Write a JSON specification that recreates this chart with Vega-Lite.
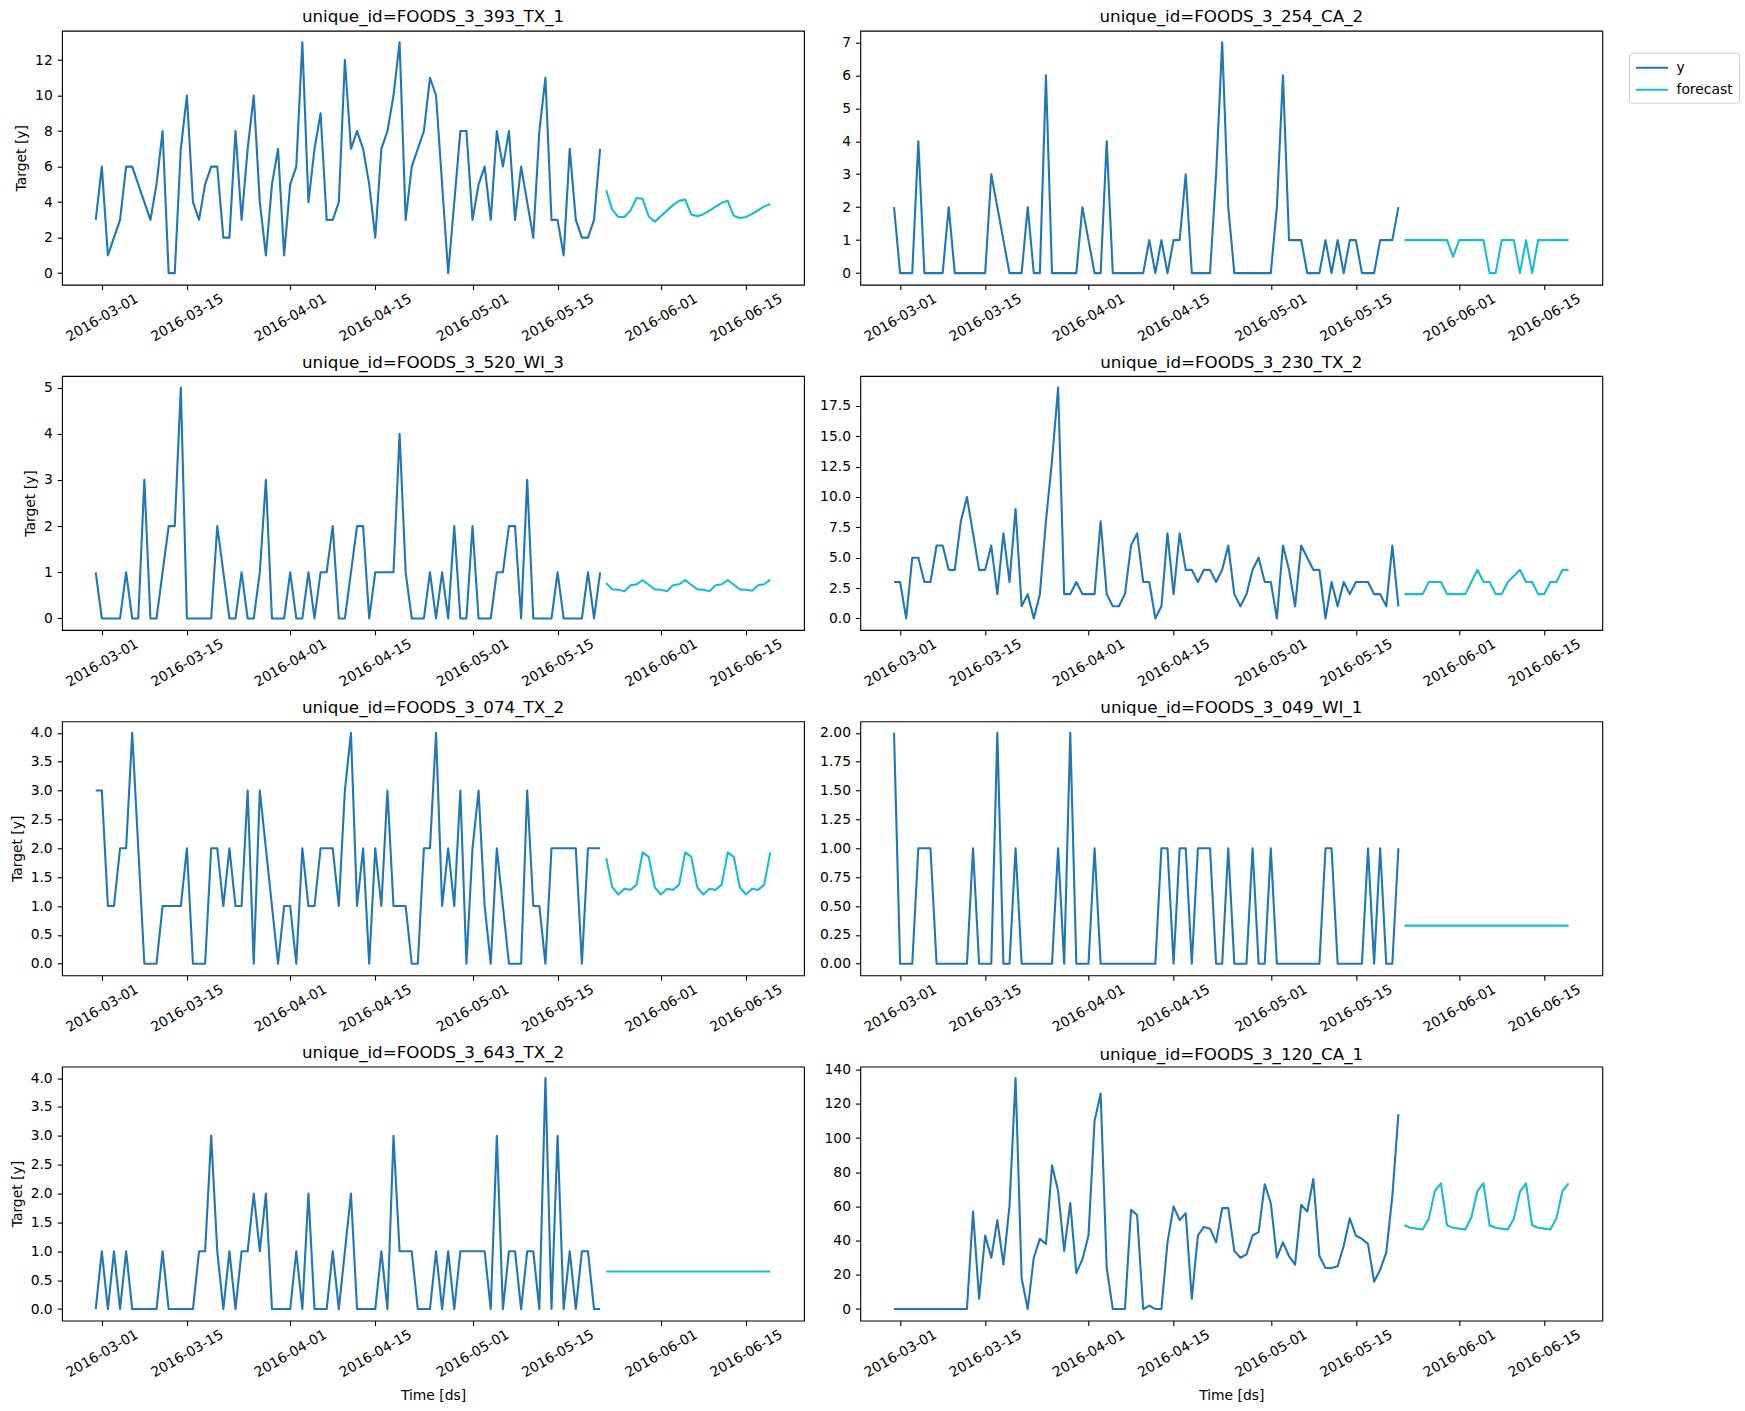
{
"$schema": "https://vega.github.io/schema/vega-lite/v6.json",
"background": "white",
"padding": {"left": 9, "top": 8.7, "right": 5, "bottom": 5},
"columns": 2,
"bounds": "flush",
"spacing": {"row": 91.3, "column": 56.3},
"resolve": {"scale": {"x": "independent", "y": "independent", "color": "shared"}, "legend": {"color": "shared"}},
"datasets": {
"p1": [
{"ds":"2016-02-29","s":"y","v":3},{"ds":"2016-03-01","s":"y","v":6},{"ds":"2016-03-02","s":"y","v":1},{"ds":"2016-03-03","s":"y","v":2},{"ds":"2016-03-04","s":"y","v":3},{"ds":"2016-03-05","s":"y","v":6},{"ds":"2016-03-06","s":"y","v":6},{"ds":"2016-03-07","s":"y","v":5},{"ds":"2016-03-08","s":"y","v":4},{"ds":"2016-03-09","s":"y","v":3},
{"ds":"2016-03-10","s":"y","v":5},{"ds":"2016-03-11","s":"y","v":8},{"ds":"2016-03-12","s":"y","v":0},{"ds":"2016-03-13","s":"y","v":0},{"ds":"2016-03-14","s":"y","v":7},{"ds":"2016-03-15","s":"y","v":10},{"ds":"2016-03-16","s":"y","v":4},{"ds":"2016-03-17","s":"y","v":3},{"ds":"2016-03-18","s":"y","v":5},{"ds":"2016-03-19","s":"y","v":6},
{"ds":"2016-03-20","s":"y","v":6},{"ds":"2016-03-21","s":"y","v":2},{"ds":"2016-03-22","s":"y","v":2},{"ds":"2016-03-23","s":"y","v":8},{"ds":"2016-03-24","s":"y","v":3},{"ds":"2016-03-25","s":"y","v":7},{"ds":"2016-03-26","s":"y","v":10},{"ds":"2016-03-27","s":"y","v":4},{"ds":"2016-03-28","s":"y","v":1},{"ds":"2016-03-29","s":"y","v":5},
{"ds":"2016-03-30","s":"y","v":7},{"ds":"2016-03-31","s":"y","v":1},{"ds":"2016-04-01","s":"y","v":5},{"ds":"2016-04-02","s":"y","v":6},{"ds":"2016-04-03","s":"y","v":13},{"ds":"2016-04-04","s":"y","v":4},{"ds":"2016-04-05","s":"y","v":7},{"ds":"2016-04-06","s":"y","v":9},{"ds":"2016-04-07","s":"y","v":3},{"ds":"2016-04-08","s":"y","v":3},
{"ds":"2016-04-09","s":"y","v":4},{"ds":"2016-04-10","s":"y","v":12},{"ds":"2016-04-11","s":"y","v":7},{"ds":"2016-04-12","s":"y","v":8},{"ds":"2016-04-13","s":"y","v":7},{"ds":"2016-04-14","s":"y","v":5},{"ds":"2016-04-15","s":"y","v":2},{"ds":"2016-04-16","s":"y","v":7},{"ds":"2016-04-17","s":"y","v":8},{"ds":"2016-04-18","s":"y","v":10},
{"ds":"2016-04-19","s":"y","v":13},{"ds":"2016-04-20","s":"y","v":3},{"ds":"2016-04-21","s":"y","v":6},{"ds":"2016-04-22","s":"y","v":7},{"ds":"2016-04-23","s":"y","v":8},{"ds":"2016-04-24","s":"y","v":11},{"ds":"2016-04-25","s":"y","v":10},{"ds":"2016-04-26","s":"y","v":5},{"ds":"2016-04-27","s":"y","v":0},{"ds":"2016-04-28","s":"y","v":4},
{"ds":"2016-04-29","s":"y","v":8},{"ds":"2016-04-30","s":"y","v":8},{"ds":"2016-05-01","s":"y","v":3},{"ds":"2016-05-02","s":"y","v":5},{"ds":"2016-05-03","s":"y","v":6},{"ds":"2016-05-04","s":"y","v":3},{"ds":"2016-05-05","s":"y","v":8},{"ds":"2016-05-06","s":"y","v":6},{"ds":"2016-05-07","s":"y","v":8},{"ds":"2016-05-08","s":"y","v":3},
{"ds":"2016-05-09","s":"y","v":6},{"ds":"2016-05-10","s":"y","v":4},{"ds":"2016-05-11","s":"y","v":2},{"ds":"2016-05-12","s":"y","v":8},{"ds":"2016-05-13","s":"y","v":11},{"ds":"2016-05-14","s":"y","v":3},{"ds":"2016-05-15","s":"y","v":3},{"ds":"2016-05-16","s":"y","v":1},{"ds":"2016-05-17","s":"y","v":7},{"ds":"2016-05-18","s":"y","v":3},
{"ds":"2016-05-19","s":"y","v":2},{"ds":"2016-05-20","s":"y","v":2},{"ds":"2016-05-21","s":"y","v":3},{"ds":"2016-05-22","s":"y","v":7},
{"ds":"2016-05-23","s":"forecast","v":4.67},{"ds":"2016-05-24","s":"forecast","v":3.56},{"ds":"2016-05-25","s":"forecast","v":3.16},{"ds":"2016-05-26","s":"forecast","v":3.16},{"ds":"2016-05-27","s":"forecast","v":3.52},{"ds":"2016-05-28","s":"forecast","v":4.23},{"ds":"2016-05-29","s":"forecast","v":4.18},{"ds":"2016-05-30","s":"forecast","v":3.19},{"ds":"2016-05-31","s":"forecast","v":2.9},{"ds":"2016-06-01","s":"forecast","v":3.21},
{"ds":"2016-06-02","s":"forecast","v":3.52},{"ds":"2016-06-03","s":"forecast","v":3.83},{"ds":"2016-06-04","s":"forecast","v":4.07},{"ds":"2016-06-05","s":"forecast","v":4.14},{"ds":"2016-06-06","s":"forecast","v":3.3},{"ds":"2016-06-07","s":"forecast","v":3.21},{"ds":"2016-06-08","s":"forecast","v":3.32},{"ds":"2016-06-09","s":"forecast","v":3.52},{"ds":"2016-06-10","s":"forecast","v":3.74},{"ds":"2016-06-11","s":"forecast","v":3.96},
{"ds":"2016-06-12","s":"forecast","v":4.07},{"ds":"2016-06-13","s":"forecast","v":3.23},{"ds":"2016-06-14","s":"forecast","v":3.1},{"ds":"2016-06-15","s":"forecast","v":3.16},{"ds":"2016-06-16","s":"forecast","v":3.34},{"ds":"2016-06-17","s":"forecast","v":3.54},{"ds":"2016-06-18","s":"forecast","v":3.76},{"ds":"2016-06-19","s":"forecast","v":3.89}
],
"p2": [
{"ds":"2016-02-29","s":"y","v":2},{"ds":"2016-03-01","s":"y","v":0},{"ds":"2016-03-02","s":"y","v":0},{"ds":"2016-03-03","s":"y","v":0},{"ds":"2016-03-04","s":"y","v":4},{"ds":"2016-03-05","s":"y","v":0},{"ds":"2016-03-06","s":"y","v":0},{"ds":"2016-03-07","s":"y","v":0},{"ds":"2016-03-08","s":"y","v":0},{"ds":"2016-03-09","s":"y","v":2},
{"ds":"2016-03-10","s":"y","v":0},{"ds":"2016-03-11","s":"y","v":0},{"ds":"2016-03-12","s":"y","v":0},{"ds":"2016-03-13","s":"y","v":0},{"ds":"2016-03-14","s":"y","v":0},{"ds":"2016-03-15","s":"y","v":0},{"ds":"2016-03-16","s":"y","v":3},{"ds":"2016-03-17","s":"y","v":2},{"ds":"2016-03-18","s":"y","v":1},{"ds":"2016-03-19","s":"y","v":0},
{"ds":"2016-03-20","s":"y","v":0},{"ds":"2016-03-21","s":"y","v":0},{"ds":"2016-03-22","s":"y","v":2},{"ds":"2016-03-23","s":"y","v":0},{"ds":"2016-03-24","s":"y","v":0},{"ds":"2016-03-25","s":"y","v":6},{"ds":"2016-03-26","s":"y","v":0},{"ds":"2016-03-27","s":"y","v":0},{"ds":"2016-03-28","s":"y","v":0},{"ds":"2016-03-29","s":"y","v":0},
{"ds":"2016-03-30","s":"y","v":0},{"ds":"2016-03-31","s":"y","v":2},{"ds":"2016-04-01","s":"y","v":1},{"ds":"2016-04-02","s":"y","v":0},{"ds":"2016-04-03","s":"y","v":0},{"ds":"2016-04-04","s":"y","v":4},{"ds":"2016-04-05","s":"y","v":0},{"ds":"2016-04-06","s":"y","v":0},{"ds":"2016-04-07","s":"y","v":0},{"ds":"2016-04-08","s":"y","v":0},
{"ds":"2016-04-09","s":"y","v":0},{"ds":"2016-04-10","s":"y","v":0},{"ds":"2016-04-11","s":"y","v":1},{"ds":"2016-04-12","s":"y","v":0},{"ds":"2016-04-13","s":"y","v":1},{"ds":"2016-04-14","s":"y","v":0},{"ds":"2016-04-15","s":"y","v":1},{"ds":"2016-04-16","s":"y","v":1},{"ds":"2016-04-17","s":"y","v":3},{"ds":"2016-04-18","s":"y","v":0},
{"ds":"2016-04-19","s":"y","v":0},{"ds":"2016-04-20","s":"y","v":0},{"ds":"2016-04-21","s":"y","v":0},{"ds":"2016-04-22","s":"y","v":3},{"ds":"2016-04-23","s":"y","v":7},{"ds":"2016-04-24","s":"y","v":2},{"ds":"2016-04-25","s":"y","v":0},{"ds":"2016-04-26","s":"y","v":0},{"ds":"2016-04-27","s":"y","v":0},{"ds":"2016-04-28","s":"y","v":0},
{"ds":"2016-04-29","s":"y","v":0},{"ds":"2016-04-30","s":"y","v":0},{"ds":"2016-05-01","s":"y","v":0},{"ds":"2016-05-02","s":"y","v":2},{"ds":"2016-05-03","s":"y","v":6},{"ds":"2016-05-04","s":"y","v":1},{"ds":"2016-05-05","s":"y","v":1},{"ds":"2016-05-06","s":"y","v":1},{"ds":"2016-05-07","s":"y","v":0},{"ds":"2016-05-08","s":"y","v":0},
{"ds":"2016-05-09","s":"y","v":0},{"ds":"2016-05-10","s":"y","v":1},{"ds":"2016-05-11","s":"y","v":0},{"ds":"2016-05-12","s":"y","v":1},{"ds":"2016-05-13","s":"y","v":0},{"ds":"2016-05-14","s":"y","v":1},{"ds":"2016-05-15","s":"y","v":1},{"ds":"2016-05-16","s":"y","v":0},{"ds":"2016-05-17","s":"y","v":0},{"ds":"2016-05-18","s":"y","v":0},
{"ds":"2016-05-19","s":"y","v":1},{"ds":"2016-05-20","s":"y","v":1},{"ds":"2016-05-21","s":"y","v":1},{"ds":"2016-05-22","s":"y","v":2},
{"ds":"2016-05-23","s":"forecast","v":1},{"ds":"2016-05-24","s":"forecast","v":1},{"ds":"2016-05-25","s":"forecast","v":1},{"ds":"2016-05-26","s":"forecast","v":1},{"ds":"2016-05-27","s":"forecast","v":1},{"ds":"2016-05-28","s":"forecast","v":1},{"ds":"2016-05-29","s":"forecast","v":1},{"ds":"2016-05-30","s":"forecast","v":1},{"ds":"2016-05-31","s":"forecast","v":0.5},{"ds":"2016-06-01","s":"forecast","v":1},
{"ds":"2016-06-02","s":"forecast","v":1},{"ds":"2016-06-03","s":"forecast","v":1},{"ds":"2016-06-04","s":"forecast","v":1},{"ds":"2016-06-05","s":"forecast","v":1},{"ds":"2016-06-06","s":"forecast","v":0},{"ds":"2016-06-07","s":"forecast","v":0},{"ds":"2016-06-08","s":"forecast","v":1},{"ds":"2016-06-09","s":"forecast","v":1},{"ds":"2016-06-10","s":"forecast","v":1},{"ds":"2016-06-11","s":"forecast","v":0},
{"ds":"2016-06-12","s":"forecast","v":1},{"ds":"2016-06-13","s":"forecast","v":0},{"ds":"2016-06-14","s":"forecast","v":1},{"ds":"2016-06-15","s":"forecast","v":1},{"ds":"2016-06-16","s":"forecast","v":1},{"ds":"2016-06-17","s":"forecast","v":1},{"ds":"2016-06-18","s":"forecast","v":1},{"ds":"2016-06-19","s":"forecast","v":1}
],
"p3": [
{"ds":"2016-02-29","s":"y","v":1},{"ds":"2016-03-01","s":"y","v":0},{"ds":"2016-03-02","s":"y","v":0},{"ds":"2016-03-03","s":"y","v":0},{"ds":"2016-03-04","s":"y","v":0},{"ds":"2016-03-05","s":"y","v":1},{"ds":"2016-03-06","s":"y","v":0},{"ds":"2016-03-07","s":"y","v":0},{"ds":"2016-03-08","s":"y","v":3},{"ds":"2016-03-09","s":"y","v":0},
{"ds":"2016-03-10","s":"y","v":0},{"ds":"2016-03-11","s":"y","v":1},{"ds":"2016-03-12","s":"y","v":2},{"ds":"2016-03-13","s":"y","v":2},{"ds":"2016-03-14","s":"y","v":5},{"ds":"2016-03-15","s":"y","v":0},{"ds":"2016-03-16","s":"y","v":0},{"ds":"2016-03-17","s":"y","v":0},{"ds":"2016-03-18","s":"y","v":0},{"ds":"2016-03-19","s":"y","v":0},
{"ds":"2016-03-20","s":"y","v":2},{"ds":"2016-03-21","s":"y","v":1},{"ds":"2016-03-22","s":"y","v":0},{"ds":"2016-03-23","s":"y","v":0},{"ds":"2016-03-24","s":"y","v":1},{"ds":"2016-03-25","s":"y","v":0},{"ds":"2016-03-26","s":"y","v":0},{"ds":"2016-03-27","s":"y","v":1},{"ds":"2016-03-28","s":"y","v":3},{"ds":"2016-03-29","s":"y","v":0},
{"ds":"2016-03-30","s":"y","v":0},{"ds":"2016-03-31","s":"y","v":0},{"ds":"2016-04-01","s":"y","v":1},{"ds":"2016-04-02","s":"y","v":0},{"ds":"2016-04-03","s":"y","v":0},{"ds":"2016-04-04","s":"y","v":1},{"ds":"2016-04-05","s":"y","v":0},{"ds":"2016-04-06","s":"y","v":1},{"ds":"2016-04-07","s":"y","v":1},{"ds":"2016-04-08","s":"y","v":2},
{"ds":"2016-04-09","s":"y","v":0},{"ds":"2016-04-10","s":"y","v":0},{"ds":"2016-04-11","s":"y","v":1},{"ds":"2016-04-12","s":"y","v":2},{"ds":"2016-04-13","s":"y","v":2},{"ds":"2016-04-14","s":"y","v":0},{"ds":"2016-04-15","s":"y","v":1},{"ds":"2016-04-16","s":"y","v":1},{"ds":"2016-04-17","s":"y","v":1},{"ds":"2016-04-18","s":"y","v":1},
{"ds":"2016-04-19","s":"y","v":4},{"ds":"2016-04-20","s":"y","v":1},{"ds":"2016-04-21","s":"y","v":0},{"ds":"2016-04-22","s":"y","v":0},{"ds":"2016-04-23","s":"y","v":0},{"ds":"2016-04-24","s":"y","v":1},{"ds":"2016-04-25","s":"y","v":0},{"ds":"2016-04-26","s":"y","v":1},{"ds":"2016-04-27","s":"y","v":0},{"ds":"2016-04-28","s":"y","v":2},
{"ds":"2016-04-29","s":"y","v":0},{"ds":"2016-04-30","s":"y","v":0},{"ds":"2016-05-01","s":"y","v":2},{"ds":"2016-05-02","s":"y","v":0},{"ds":"2016-05-03","s":"y","v":0},{"ds":"2016-05-04","s":"y","v":0},{"ds":"2016-05-05","s":"y","v":1},{"ds":"2016-05-06","s":"y","v":1},{"ds":"2016-05-07","s":"y","v":2},{"ds":"2016-05-08","s":"y","v":2},
{"ds":"2016-05-09","s":"y","v":0},{"ds":"2016-05-10","s":"y","v":3},{"ds":"2016-05-11","s":"y","v":0},{"ds":"2016-05-12","s":"y","v":0},{"ds":"2016-05-13","s":"y","v":0},{"ds":"2016-05-14","s":"y","v":0},{"ds":"2016-05-15","s":"y","v":1},{"ds":"2016-05-16","s":"y","v":0},{"ds":"2016-05-17","s":"y","v":0},{"ds":"2016-05-18","s":"y","v":0},
{"ds":"2016-05-19","s":"y","v":0},{"ds":"2016-05-20","s":"y","v":1},{"ds":"2016-05-21","s":"y","v":0},{"ds":"2016-05-22","s":"y","v":1},
{"ds":"2016-05-23","s":"forecast","v":0.76},{"ds":"2016-05-24","s":"forecast","v":0.63},{"ds":"2016-05-25","s":"forecast","v":0.62},{"ds":"2016-05-26","s":"forecast","v":0.59},{"ds":"2016-05-27","s":"forecast","v":0.72},{"ds":"2016-05-28","s":"forecast","v":0.74},{"ds":"2016-05-29","s":"forecast","v":0.83},{"ds":"2016-05-30","s":"forecast","v":0.73},{"ds":"2016-05-31","s":"forecast","v":0.63},{"ds":"2016-06-01","s":"forecast","v":0.62},
{"ds":"2016-06-02","s":"forecast","v":0.59},{"ds":"2016-06-03","s":"forecast","v":0.72},{"ds":"2016-06-04","s":"forecast","v":0.74},{"ds":"2016-06-05","s":"forecast","v":0.83},{"ds":"2016-06-06","s":"forecast","v":0.73},{"ds":"2016-06-07","s":"forecast","v":0.63},{"ds":"2016-06-08","s":"forecast","v":0.62},{"ds":"2016-06-09","s":"forecast","v":0.59},{"ds":"2016-06-10","s":"forecast","v":0.72},{"ds":"2016-06-11","s":"forecast","v":0.74},
{"ds":"2016-06-12","s":"forecast","v":0.83},{"ds":"2016-06-13","s":"forecast","v":0.73},{"ds":"2016-06-14","s":"forecast","v":0.63},{"ds":"2016-06-15","s":"forecast","v":0.62},{"ds":"2016-06-16","s":"forecast","v":0.6},{"ds":"2016-06-17","s":"forecast","v":0.72},{"ds":"2016-06-18","s":"forecast","v":0.74},{"ds":"2016-06-19","s":"forecast","v":0.84}
],
"p4": [
{"ds":"2016-02-29","s":"y","v":3},{"ds":"2016-03-01","s":"y","v":3},{"ds":"2016-03-02","s":"y","v":0},{"ds":"2016-03-03","s":"y","v":5},{"ds":"2016-03-04","s":"y","v":5},{"ds":"2016-03-05","s":"y","v":3},{"ds":"2016-03-06","s":"y","v":3},{"ds":"2016-03-07","s":"y","v":6},{"ds":"2016-03-08","s":"y","v":6},{"ds":"2016-03-09","s":"y","v":4},
{"ds":"2016-03-10","s":"y","v":4},{"ds":"2016-03-11","s":"y","v":8},{"ds":"2016-03-12","s":"y","v":10},{"ds":"2016-03-13","s":"y","v":7},{"ds":"2016-03-14","s":"y","v":4},{"ds":"2016-03-15","s":"y","v":4},{"ds":"2016-03-16","s":"y","v":6},{"ds":"2016-03-17","s":"y","v":2},{"ds":"2016-03-18","s":"y","v":7},{"ds":"2016-03-19","s":"y","v":3},
{"ds":"2016-03-20","s":"y","v":9},{"ds":"2016-03-21","s":"y","v":1},{"ds":"2016-03-22","s":"y","v":2},{"ds":"2016-03-23","s":"y","v":0},{"ds":"2016-03-24","s":"y","v":2},{"ds":"2016-03-25","s":"y","v":8},{"ds":"2016-03-26","s":"y","v":13},{"ds":"2016-03-27","s":"y","v":19},{"ds":"2016-03-28","s":"y","v":2},{"ds":"2016-03-29","s":"y","v":2},
{"ds":"2016-03-30","s":"y","v":3},{"ds":"2016-03-31","s":"y","v":2},{"ds":"2016-04-01","s":"y","v":2},{"ds":"2016-04-02","s":"y","v":2},{"ds":"2016-04-03","s":"y","v":8},{"ds":"2016-04-04","s":"y","v":2},{"ds":"2016-04-05","s":"y","v":1},{"ds":"2016-04-06","s":"y","v":1},{"ds":"2016-04-07","s":"y","v":2},{"ds":"2016-04-08","s":"y","v":6},
{"ds":"2016-04-09","s":"y","v":7},{"ds":"2016-04-10","s":"y","v":3},{"ds":"2016-04-11","s":"y","v":3},{"ds":"2016-04-12","s":"y","v":0},{"ds":"2016-04-13","s":"y","v":1},{"ds":"2016-04-14","s":"y","v":7},{"ds":"2016-04-15","s":"y","v":2},{"ds":"2016-04-16","s":"y","v":7},{"ds":"2016-04-17","s":"y","v":4},{"ds":"2016-04-18","s":"y","v":4},
{"ds":"2016-04-19","s":"y","v":3},{"ds":"2016-04-20","s":"y","v":4},{"ds":"2016-04-21","s":"y","v":4},{"ds":"2016-04-22","s":"y","v":3},{"ds":"2016-04-23","s":"y","v":4},{"ds":"2016-04-24","s":"y","v":6},{"ds":"2016-04-25","s":"y","v":2},{"ds":"2016-04-26","s":"y","v":1},{"ds":"2016-04-27","s":"y","v":2},{"ds":"2016-04-28","s":"y","v":4},
{"ds":"2016-04-29","s":"y","v":5},{"ds":"2016-04-30","s":"y","v":3},{"ds":"2016-05-01","s":"y","v":3},{"ds":"2016-05-02","s":"y","v":0},{"ds":"2016-05-03","s":"y","v":6},{"ds":"2016-05-04","s":"y","v":4},{"ds":"2016-05-05","s":"y","v":1},{"ds":"2016-05-06","s":"y","v":6},{"ds":"2016-05-07","s":"y","v":5},{"ds":"2016-05-08","s":"y","v":4},
{"ds":"2016-05-09","s":"y","v":4},{"ds":"2016-05-10","s":"y","v":0},{"ds":"2016-05-11","s":"y","v":3},{"ds":"2016-05-12","s":"y","v":1},{"ds":"2016-05-13","s":"y","v":3},{"ds":"2016-05-14","s":"y","v":2},{"ds":"2016-05-15","s":"y","v":3},{"ds":"2016-05-16","s":"y","v":3},{"ds":"2016-05-17","s":"y","v":3},{"ds":"2016-05-18","s":"y","v":2},
{"ds":"2016-05-19","s":"y","v":2},{"ds":"2016-05-20","s":"y","v":1},{"ds":"2016-05-21","s":"y","v":6},{"ds":"2016-05-22","s":"y","v":1},
{"ds":"2016-05-23","s":"forecast","v":2},{"ds":"2016-05-24","s":"forecast","v":2},{"ds":"2016-05-25","s":"forecast","v":2},{"ds":"2016-05-26","s":"forecast","v":2},{"ds":"2016-05-27","s":"forecast","v":3},{"ds":"2016-05-28","s":"forecast","v":3},{"ds":"2016-05-29","s":"forecast","v":3},{"ds":"2016-05-30","s":"forecast","v":2},{"ds":"2016-05-31","s":"forecast","v":2},{"ds":"2016-06-01","s":"forecast","v":2},
{"ds":"2016-06-02","s":"forecast","v":2},{"ds":"2016-06-03","s":"forecast","v":3},{"ds":"2016-06-04","s":"forecast","v":4},{"ds":"2016-06-05","s":"forecast","v":3},{"ds":"2016-06-06","s":"forecast","v":3},{"ds":"2016-06-07","s":"forecast","v":2},{"ds":"2016-06-08","s":"forecast","v":2},{"ds":"2016-06-09","s":"forecast","v":3},{"ds":"2016-06-10","s":"forecast","v":3.5},{"ds":"2016-06-11","s":"forecast","v":4},
{"ds":"2016-06-12","s":"forecast","v":3},{"ds":"2016-06-13","s":"forecast","v":3},{"ds":"2016-06-14","s":"forecast","v":2},{"ds":"2016-06-15","s":"forecast","v":2},{"ds":"2016-06-16","s":"forecast","v":3},{"ds":"2016-06-17","s":"forecast","v":3},{"ds":"2016-06-18","s":"forecast","v":4},{"ds":"2016-06-19","s":"forecast","v":4}
],
"p5": [
{"ds":"2016-02-29","s":"y","v":3},{"ds":"2016-03-01","s":"y","v":3},{"ds":"2016-03-02","s":"y","v":1},{"ds":"2016-03-03","s":"y","v":1},{"ds":"2016-03-04","s":"y","v":2},{"ds":"2016-03-05","s":"y","v":2},{"ds":"2016-03-06","s":"y","v":4},{"ds":"2016-03-07","s":"y","v":2},{"ds":"2016-03-08","s":"y","v":0},{"ds":"2016-03-09","s":"y","v":0},
{"ds":"2016-03-10","s":"y","v":0},{"ds":"2016-03-11","s":"y","v":1},{"ds":"2016-03-12","s":"y","v":1},{"ds":"2016-03-13","s":"y","v":1},{"ds":"2016-03-14","s":"y","v":1},{"ds":"2016-03-15","s":"y","v":2},{"ds":"2016-03-16","s":"y","v":0},{"ds":"2016-03-17","s":"y","v":0},{"ds":"2016-03-18","s":"y","v":0},{"ds":"2016-03-19","s":"y","v":2},
{"ds":"2016-03-20","s":"y","v":2},{"ds":"2016-03-21","s":"y","v":1},{"ds":"2016-03-22","s":"y","v":2},{"ds":"2016-03-23","s":"y","v":1},{"ds":"2016-03-24","s":"y","v":1},{"ds":"2016-03-25","s":"y","v":3},{"ds":"2016-03-26","s":"y","v":0},{"ds":"2016-03-27","s":"y","v":3},{"ds":"2016-03-28","s":"y","v":2},{"ds":"2016-03-29","s":"y","v":1},
{"ds":"2016-03-30","s":"y","v":0},{"ds":"2016-03-31","s":"y","v":1},{"ds":"2016-04-01","s":"y","v":1},{"ds":"2016-04-02","s":"y","v":0},{"ds":"2016-04-03","s":"y","v":2},{"ds":"2016-04-04","s":"y","v":1},{"ds":"2016-04-05","s":"y","v":1},{"ds":"2016-04-06","s":"y","v":2},{"ds":"2016-04-07","s":"y","v":2},{"ds":"2016-04-08","s":"y","v":2},
{"ds":"2016-04-09","s":"y","v":1},{"ds":"2016-04-10","s":"y","v":3},{"ds":"2016-04-11","s":"y","v":4},{"ds":"2016-04-12","s":"y","v":1},{"ds":"2016-04-13","s":"y","v":2},{"ds":"2016-04-14","s":"y","v":0},{"ds":"2016-04-15","s":"y","v":2},{"ds":"2016-04-16","s":"y","v":1},{"ds":"2016-04-17","s":"y","v":3},{"ds":"2016-04-18","s":"y","v":1},
{"ds":"2016-04-19","s":"y","v":1},{"ds":"2016-04-20","s":"y","v":1},{"ds":"2016-04-21","s":"y","v":0},{"ds":"2016-04-22","s":"y","v":0},{"ds":"2016-04-23","s":"y","v":2},{"ds":"2016-04-24","s":"y","v":2},{"ds":"2016-04-25","s":"y","v":4},{"ds":"2016-04-26","s":"y","v":1},{"ds":"2016-04-27","s":"y","v":2},{"ds":"2016-04-28","s":"y","v":1},
{"ds":"2016-04-29","s":"y","v":3},{"ds":"2016-04-30","s":"y","v":0},{"ds":"2016-05-01","s":"y","v":2},{"ds":"2016-05-02","s":"y","v":3},{"ds":"2016-05-03","s":"y","v":1},{"ds":"2016-05-04","s":"y","v":0},{"ds":"2016-05-05","s":"y","v":2},{"ds":"2016-05-06","s":"y","v":1},{"ds":"2016-05-07","s":"y","v":0},{"ds":"2016-05-08","s":"y","v":0},
{"ds":"2016-05-09","s":"y","v":0},{"ds":"2016-05-10","s":"y","v":3},{"ds":"2016-05-11","s":"y","v":1},{"ds":"2016-05-12","s":"y","v":1},{"ds":"2016-05-13","s":"y","v":0},{"ds":"2016-05-14","s":"y","v":2},{"ds":"2016-05-15","s":"y","v":2},{"ds":"2016-05-16","s":"y","v":2},{"ds":"2016-05-17","s":"y","v":2},{"ds":"2016-05-18","s":"y","v":2},
{"ds":"2016-05-19","s":"y","v":0},{"ds":"2016-05-20","s":"y","v":2},{"ds":"2016-05-21","s":"y","v":2},{"ds":"2016-05-22","s":"y","v":2},
{"ds":"2016-05-23","s":"forecast","v":1.83},{"ds":"2016-05-24","s":"forecast","v":1.33},{"ds":"2016-05-25","s":"forecast","v":1.2},{"ds":"2016-05-26","s":"forecast","v":1.3},{"ds":"2016-05-27","s":"forecast","v":1.28},{"ds":"2016-05-28","s":"forecast","v":1.37},{"ds":"2016-05-29","s":"forecast","v":1.93},{"ds":"2016-05-30","s":"forecast","v":1.85},{"ds":"2016-05-31","s":"forecast","v":1.32},{"ds":"2016-06-01","s":"forecast","v":1.2},
{"ds":"2016-06-02","s":"forecast","v":1.3},{"ds":"2016-06-03","s":"forecast","v":1.28},{"ds":"2016-06-04","s":"forecast","v":1.37},{"ds":"2016-06-05","s":"forecast","v":1.93},{"ds":"2016-06-06","s":"forecast","v":1.85},{"ds":"2016-06-07","s":"forecast","v":1.32},{"ds":"2016-06-08","s":"forecast","v":1.2},{"ds":"2016-06-09","s":"forecast","v":1.3},{"ds":"2016-06-10","s":"forecast","v":1.28},{"ds":"2016-06-11","s":"forecast","v":1.37},
{"ds":"2016-06-12","s":"forecast","v":1.93},{"ds":"2016-06-13","s":"forecast","v":1.85},{"ds":"2016-06-14","s":"forecast","v":1.32},{"ds":"2016-06-15","s":"forecast","v":1.2},{"ds":"2016-06-16","s":"forecast","v":1.3},{"ds":"2016-06-17","s":"forecast","v":1.28},{"ds":"2016-06-18","s":"forecast","v":1.37},{"ds":"2016-06-19","s":"forecast","v":1.93}
],
"p6": [
{"ds":"2016-02-29","s":"y","v":2},{"ds":"2016-03-01","s":"y","v":0},{"ds":"2016-03-02","s":"y","v":0},{"ds":"2016-03-03","s":"y","v":0},{"ds":"2016-03-04","s":"y","v":1},{"ds":"2016-03-05","s":"y","v":1},{"ds":"2016-03-06","s":"y","v":1},{"ds":"2016-03-07","s":"y","v":0},{"ds":"2016-03-08","s":"y","v":0},{"ds":"2016-03-09","s":"y","v":0},
{"ds":"2016-03-10","s":"y","v":0},{"ds":"2016-03-11","s":"y","v":0},{"ds":"2016-03-12","s":"y","v":0},{"ds":"2016-03-13","s":"y","v":1},{"ds":"2016-03-14","s":"y","v":0},{"ds":"2016-03-15","s":"y","v":0},{"ds":"2016-03-16","s":"y","v":0},{"ds":"2016-03-17","s":"y","v":2},{"ds":"2016-03-18","s":"y","v":0},{"ds":"2016-03-19","s":"y","v":0},
{"ds":"2016-03-20","s":"y","v":1},{"ds":"2016-03-21","s":"y","v":0},{"ds":"2016-03-22","s":"y","v":0},{"ds":"2016-03-23","s":"y","v":0},{"ds":"2016-03-24","s":"y","v":0},{"ds":"2016-03-25","s":"y","v":0},{"ds":"2016-03-26","s":"y","v":0},{"ds":"2016-03-27","s":"y","v":1},{"ds":"2016-03-28","s":"y","v":0},{"ds":"2016-03-29","s":"y","v":2},
{"ds":"2016-03-30","s":"y","v":0},{"ds":"2016-03-31","s":"y","v":0},{"ds":"2016-04-01","s":"y","v":0},{"ds":"2016-04-02","s":"y","v":1},{"ds":"2016-04-03","s":"y","v":0},{"ds":"2016-04-04","s":"y","v":0},{"ds":"2016-04-05","s":"y","v":0},{"ds":"2016-04-06","s":"y","v":0},{"ds":"2016-04-07","s":"y","v":0},{"ds":"2016-04-08","s":"y","v":0},
{"ds":"2016-04-09","s":"y","v":0},{"ds":"2016-04-10","s":"y","v":0},{"ds":"2016-04-11","s":"y","v":0},{"ds":"2016-04-12","s":"y","v":0},{"ds":"2016-04-13","s":"y","v":1},{"ds":"2016-04-14","s":"y","v":1},{"ds":"2016-04-15","s":"y","v":0},{"ds":"2016-04-16","s":"y","v":1},{"ds":"2016-04-17","s":"y","v":1},{"ds":"2016-04-18","s":"y","v":0},
{"ds":"2016-04-19","s":"y","v":1},{"ds":"2016-04-20","s":"y","v":1},{"ds":"2016-04-21","s":"y","v":1},{"ds":"2016-04-22","s":"y","v":0},{"ds":"2016-04-23","s":"y","v":0},{"ds":"2016-04-24","s":"y","v":1},{"ds":"2016-04-25","s":"y","v":0},{"ds":"2016-04-26","s":"y","v":0},{"ds":"2016-04-27","s":"y","v":0},{"ds":"2016-04-28","s":"y","v":1},
{"ds":"2016-04-29","s":"y","v":0},{"ds":"2016-04-30","s":"y","v":0},{"ds":"2016-05-01","s":"y","v":1},{"ds":"2016-05-02","s":"y","v":0},{"ds":"2016-05-03","s":"y","v":0},{"ds":"2016-05-04","s":"y","v":0},{"ds":"2016-05-05","s":"y","v":0},{"ds":"2016-05-06","s":"y","v":0},{"ds":"2016-05-07","s":"y","v":0},{"ds":"2016-05-08","s":"y","v":0},
{"ds":"2016-05-09","s":"y","v":0},{"ds":"2016-05-10","s":"y","v":1},{"ds":"2016-05-11","s":"y","v":1},{"ds":"2016-05-12","s":"y","v":0},{"ds":"2016-05-13","s":"y","v":0},{"ds":"2016-05-14","s":"y","v":0},{"ds":"2016-05-15","s":"y","v":0},{"ds":"2016-05-16","s":"y","v":0},{"ds":"2016-05-17","s":"y","v":1},{"ds":"2016-05-18","s":"y","v":0},
{"ds":"2016-05-19","s":"y","v":1},{"ds":"2016-05-20","s":"y","v":0},{"ds":"2016-05-21","s":"y","v":0},{"ds":"2016-05-22","s":"y","v":1},
{"ds":"2016-05-23","s":"forecast","v":0.33},{"ds":"2016-05-24","s":"forecast","v":0.33},{"ds":"2016-05-25","s":"forecast","v":0.33},{"ds":"2016-05-26","s":"forecast","v":0.33},{"ds":"2016-05-27","s":"forecast","v":0.33},{"ds":"2016-05-28","s":"forecast","v":0.33},{"ds":"2016-05-29","s":"forecast","v":0.33},{"ds":"2016-05-30","s":"forecast","v":0.33},{"ds":"2016-05-31","s":"forecast","v":0.33},{"ds":"2016-06-01","s":"forecast","v":0.33},
{"ds":"2016-06-02","s":"forecast","v":0.33},{"ds":"2016-06-03","s":"forecast","v":0.33},{"ds":"2016-06-04","s":"forecast","v":0.33},{"ds":"2016-06-05","s":"forecast","v":0.33},{"ds":"2016-06-06","s":"forecast","v":0.33},{"ds":"2016-06-07","s":"forecast","v":0.33},{"ds":"2016-06-08","s":"forecast","v":0.33},{"ds":"2016-06-09","s":"forecast","v":0.33},{"ds":"2016-06-10","s":"forecast","v":0.33},{"ds":"2016-06-11","s":"forecast","v":0.33},
{"ds":"2016-06-12","s":"forecast","v":0.33},{"ds":"2016-06-13","s":"forecast","v":0.33},{"ds":"2016-06-14","s":"forecast","v":0.33},{"ds":"2016-06-15","s":"forecast","v":0.33},{"ds":"2016-06-16","s":"forecast","v":0.33},{"ds":"2016-06-17","s":"forecast","v":0.33},{"ds":"2016-06-18","s":"forecast","v":0.33},{"ds":"2016-06-19","s":"forecast","v":0.33}
],
"p7": [
{"ds":"2016-02-29","s":"y","v":0},{"ds":"2016-03-01","s":"y","v":1},{"ds":"2016-03-02","s":"y","v":0},{"ds":"2016-03-03","s":"y","v":1},{"ds":"2016-03-04","s":"y","v":0},{"ds":"2016-03-05","s":"y","v":1},{"ds":"2016-03-06","s":"y","v":0},{"ds":"2016-03-07","s":"y","v":0},{"ds":"2016-03-08","s":"y","v":0},{"ds":"2016-03-09","s":"y","v":0},
{"ds":"2016-03-10","s":"y","v":0},{"ds":"2016-03-11","s":"y","v":1},{"ds":"2016-03-12","s":"y","v":0},{"ds":"2016-03-13","s":"y","v":0},{"ds":"2016-03-14","s":"y","v":0},{"ds":"2016-03-15","s":"y","v":0},{"ds":"2016-03-16","s":"y","v":0},{"ds":"2016-03-17","s":"y","v":1},{"ds":"2016-03-18","s":"y","v":1},{"ds":"2016-03-19","s":"y","v":3},
{"ds":"2016-03-20","s":"y","v":1},{"ds":"2016-03-21","s":"y","v":0},{"ds":"2016-03-22","s":"y","v":1},{"ds":"2016-03-23","s":"y","v":0},{"ds":"2016-03-24","s":"y","v":1},{"ds":"2016-03-25","s":"y","v":1},{"ds":"2016-03-26","s":"y","v":2},{"ds":"2016-03-27","s":"y","v":1},{"ds":"2016-03-28","s":"y","v":2},{"ds":"2016-03-29","s":"y","v":0},
{"ds":"2016-03-30","s":"y","v":0},{"ds":"2016-03-31","s":"y","v":0},{"ds":"2016-04-01","s":"y","v":0},{"ds":"2016-04-02","s":"y","v":1},{"ds":"2016-04-03","s":"y","v":0},{"ds":"2016-04-04","s":"y","v":2},{"ds":"2016-04-05","s":"y","v":0},{"ds":"2016-04-06","s":"y","v":0},{"ds":"2016-04-07","s":"y","v":0},{"ds":"2016-04-08","s":"y","v":1},
{"ds":"2016-04-09","s":"y","v":0},{"ds":"2016-04-10","s":"y","v":1},{"ds":"2016-04-11","s":"y","v":2},{"ds":"2016-04-12","s":"y","v":0},{"ds":"2016-04-13","s":"y","v":0},{"ds":"2016-04-14","s":"y","v":0},{"ds":"2016-04-15","s":"y","v":0},{"ds":"2016-04-16","s":"y","v":1},{"ds":"2016-04-17","s":"y","v":0},{"ds":"2016-04-18","s":"y","v":3},
{"ds":"2016-04-19","s":"y","v":1},{"ds":"2016-04-20","s":"y","v":1},{"ds":"2016-04-21","s":"y","v":1},{"ds":"2016-04-22","s":"y","v":0},{"ds":"2016-04-23","s":"y","v":0},{"ds":"2016-04-24","s":"y","v":0},{"ds":"2016-04-25","s":"y","v":1},{"ds":"2016-04-26","s":"y","v":0},{"ds":"2016-04-27","s":"y","v":1},{"ds":"2016-04-28","s":"y","v":0},
{"ds":"2016-04-29","s":"y","v":1},{"ds":"2016-04-30","s":"y","v":1},{"ds":"2016-05-01","s":"y","v":1},{"ds":"2016-05-02","s":"y","v":1},{"ds":"2016-05-03","s":"y","v":1},{"ds":"2016-05-04","s":"y","v":0},{"ds":"2016-05-05","s":"y","v":3},{"ds":"2016-05-06","s":"y","v":0},{"ds":"2016-05-07","s":"y","v":1},{"ds":"2016-05-08","s":"y","v":1},
{"ds":"2016-05-09","s":"y","v":0},{"ds":"2016-05-10","s":"y","v":1},{"ds":"2016-05-11","s":"y","v":1},{"ds":"2016-05-12","s":"y","v":0},{"ds":"2016-05-13","s":"y","v":4},{"ds":"2016-05-14","s":"y","v":0},{"ds":"2016-05-15","s":"y","v":3},{"ds":"2016-05-16","s":"y","v":0},{"ds":"2016-05-17","s":"y","v":1},{"ds":"2016-05-18","s":"y","v":0},
{"ds":"2016-05-19","s":"y","v":1},{"ds":"2016-05-20","s":"y","v":1},{"ds":"2016-05-21","s":"y","v":0},{"ds":"2016-05-22","s":"y","v":0},
{"ds":"2016-05-23","s":"forecast","v":0.65},{"ds":"2016-05-24","s":"forecast","v":0.65},{"ds":"2016-05-25","s":"forecast","v":0.65},{"ds":"2016-05-26","s":"forecast","v":0.65},{"ds":"2016-05-27","s":"forecast","v":0.65},{"ds":"2016-05-28","s":"forecast","v":0.65},{"ds":"2016-05-29","s":"forecast","v":0.65},{"ds":"2016-05-30","s":"forecast","v":0.65},{"ds":"2016-05-31","s":"forecast","v":0.65},{"ds":"2016-06-01","s":"forecast","v":0.65},
{"ds":"2016-06-02","s":"forecast","v":0.65},{"ds":"2016-06-03","s":"forecast","v":0.65},{"ds":"2016-06-04","s":"forecast","v":0.65},{"ds":"2016-06-05","s":"forecast","v":0.65},{"ds":"2016-06-06","s":"forecast","v":0.65},{"ds":"2016-06-07","s":"forecast","v":0.65},{"ds":"2016-06-08","s":"forecast","v":0.65},{"ds":"2016-06-09","s":"forecast","v":0.65},{"ds":"2016-06-10","s":"forecast","v":0.65},{"ds":"2016-06-11","s":"forecast","v":0.65},
{"ds":"2016-06-12","s":"forecast","v":0.65},{"ds":"2016-06-13","s":"forecast","v":0.65},{"ds":"2016-06-14","s":"forecast","v":0.65},{"ds":"2016-06-15","s":"forecast","v":0.65},{"ds":"2016-06-16","s":"forecast","v":0.65},{"ds":"2016-06-17","s":"forecast","v":0.65},{"ds":"2016-06-18","s":"forecast","v":0.65},{"ds":"2016-06-19","s":"forecast","v":0.65}
],
"p8": [
{"ds":"2016-02-29","s":"y","v":0},{"ds":"2016-03-01","s":"y","v":0},{"ds":"2016-03-02","s":"y","v":0},{"ds":"2016-03-03","s":"y","v":0},{"ds":"2016-03-04","s":"y","v":0},{"ds":"2016-03-05","s":"y","v":0},{"ds":"2016-03-06","s":"y","v":0},{"ds":"2016-03-07","s":"y","v":0},{"ds":"2016-03-08","s":"y","v":0},{"ds":"2016-03-09","s":"y","v":0},
{"ds":"2016-03-10","s":"y","v":0},{"ds":"2016-03-11","s":"y","v":0},{"ds":"2016-03-12","s":"y","v":0},{"ds":"2016-03-13","s":"y","v":57},{"ds":"2016-03-14","s":"y","v":6},{"ds":"2016-03-15","s":"y","v":43},{"ds":"2016-03-16","s":"y","v":30},{"ds":"2016-03-17","s":"y","v":52},{"ds":"2016-03-18","s":"y","v":26},{"ds":"2016-03-19","s":"y","v":60},
{"ds":"2016-03-20","s":"y","v":135},{"ds":"2016-03-21","s":"y","v":18},{"ds":"2016-03-22","s":"y","v":0},{"ds":"2016-03-23","s":"y","v":30},{"ds":"2016-03-24","s":"y","v":41},{"ds":"2016-03-25","s":"y","v":38},{"ds":"2016-03-26","s":"y","v":84},{"ds":"2016-03-27","s":"y","v":69},{"ds":"2016-03-28","s":"y","v":34},{"ds":"2016-03-29","s":"y","v":62},
{"ds":"2016-03-30","s":"y","v":21},{"ds":"2016-03-31","s":"y","v":29},{"ds":"2016-04-01","s":"y","v":43},{"ds":"2016-04-02","s":"y","v":110},{"ds":"2016-04-03","s":"y","v":126},{"ds":"2016-04-04","s":"y","v":24},{"ds":"2016-04-05","s":"y","v":0},{"ds":"2016-04-06","s":"y","v":0},{"ds":"2016-04-07","s":"y","v":0},{"ds":"2016-04-08","s":"y","v":58},
{"ds":"2016-04-09","s":"y","v":55},{"ds":"2016-04-10","s":"y","v":0},{"ds":"2016-04-11","s":"y","v":2},{"ds":"2016-04-12","s":"y","v":0},{"ds":"2016-04-13","s":"y","v":0},{"ds":"2016-04-14","s":"y","v":39},{"ds":"2016-04-15","s":"y","v":60},{"ds":"2016-04-16","s":"y","v":52},{"ds":"2016-04-17","s":"y","v":56},{"ds":"2016-04-18","s":"y","v":6},
{"ds":"2016-04-19","s":"y","v":43},{"ds":"2016-04-20","s":"y","v":48},{"ds":"2016-04-21","s":"y","v":47},{"ds":"2016-04-22","s":"y","v":39},{"ds":"2016-04-23","s":"y","v":59},{"ds":"2016-04-24","s":"y","v":59},{"ds":"2016-04-25","s":"y","v":34},{"ds":"2016-04-26","s":"y","v":30},{"ds":"2016-04-27","s":"y","v":32},{"ds":"2016-04-28","s":"y","v":43},
{"ds":"2016-04-29","s":"y","v":45},{"ds":"2016-04-30","s":"y","v":73},{"ds":"2016-05-01","s":"y","v":62},{"ds":"2016-05-02","s":"y","v":30},{"ds":"2016-05-03","s":"y","v":39},{"ds":"2016-05-04","s":"y","v":31},{"ds":"2016-05-05","s":"y","v":26},{"ds":"2016-05-06","s":"y","v":61},{"ds":"2016-05-07","s":"y","v":57},{"ds":"2016-05-08","s":"y","v":76},
{"ds":"2016-05-09","s":"y","v":31},{"ds":"2016-05-10","s":"y","v":24},{"ds":"2016-05-11","s":"y","v":24},{"ds":"2016-05-12","s":"y","v":25},{"ds":"2016-05-13","s":"y","v":37},{"ds":"2016-05-14","s":"y","v":53},{"ds":"2016-05-15","s":"y","v":43},{"ds":"2016-05-16","s":"y","v":41},{"ds":"2016-05-17","s":"y","v":38},{"ds":"2016-05-18","s":"y","v":16},
{"ds":"2016-05-19","s":"y","v":23},{"ds":"2016-05-20","s":"y","v":33},{"ds":"2016-05-21","s":"y","v":66},{"ds":"2016-05-22","s":"y","v":114},
{"ds":"2016-05-23","s":"forecast","v":49},{"ds":"2016-05-24","s":"forecast","v":47.5},{"ds":"2016-05-25","s":"forecast","v":47},{"ds":"2016-05-26","s":"forecast","v":46.5},{"ds":"2016-05-27","s":"forecast","v":53},{"ds":"2016-05-28","s":"forecast","v":69},{"ds":"2016-05-29","s":"forecast","v":73.5},{"ds":"2016-05-30","s":"forecast","v":49},{"ds":"2016-05-31","s":"forecast","v":47.5},{"ds":"2016-06-01","s":"forecast","v":47},
{"ds":"2016-06-02","s":"forecast","v":46.5},{"ds":"2016-06-03","s":"forecast","v":53.5},{"ds":"2016-06-04","s":"forecast","v":69},{"ds":"2016-06-05","s":"forecast","v":73.5},{"ds":"2016-06-06","s":"forecast","v":49},{"ds":"2016-06-07","s":"forecast","v":47.5},{"ds":"2016-06-08","s":"forecast","v":47},{"ds":"2016-06-09","s":"forecast","v":46.5},{"ds":"2016-06-10","s":"forecast","v":53},{"ds":"2016-06-11","s":"forecast","v":68.6},
{"ds":"2016-06-12","s":"forecast","v":73.5},{"ds":"2016-06-13","s":"forecast","v":49},{"ds":"2016-06-14","s":"forecast","v":47.5},{"ds":"2016-06-15","s":"forecast","v":47},{"ds":"2016-06-16","s":"forecast","v":46.5},{"ds":"2016-06-17","s":"forecast","v":53},{"ds":"2016-06-18","s":"forecast","v":69},{"ds":"2016-06-19","s":"forecast","v":73.5}
]
},
"concat": [
{"width": 742, "height": 254, "title": "unique_id=FOODS_3_393_TX_1", "data": {"name": "p1"},
 "mark": {"type": "line", "strokeWidth": 2.1, "strokeJoin": "round"},
 "encoding": {
  "x": {"field": "ds", "type": "temporal", "scale": {"type": "utc", "domain": [{"year":2016,"month":2,"date":23,"hours":10,"minutes":48,"utc":true},{"year":2016,"month":6,"date":24,"hours":13,"minutes":12,"utc":true}]}, "axis": {"title": null, "format": "%Y-%m-%d", "values": [{"year":2016,"month":3,"date":1,"utc":true},{"year":2016,"month":3,"date":15,"utc":true},{"year":2016,"month":4,"date":1,"utc":true},{"year":2016,"month":4,"date":15,"utc":true},{"year":2016,"month":5,"date":1,"utc":true},{"year":2016,"month":5,"date":15,"utc":true},{"year":2016,"month":6,"date":1,"utc":true},{"year":2016,"month":6,"date":15,"utc":true}]}},
  "y": {"field": "v", "type": "quantitative", "scale": {"domain": [-0.65, 13.65], "nice": false, "zero": false}, "axis": {"title": "Target [y]", "values": [0,2,4,6,8,10,12], "format": "d"}},
  "color": {"field": "s", "type": "nominal", "scale": {"domain": ["y", "forecast"], "range": ["#1f77b4", "#17becf"]}, "legend": {"title": null, "orient": "none", "legendX": 1567, "legendY": 22}}
 }},
{"width": 742, "height": 254, "title": "unique_id=FOODS_3_254_CA_2", "data": {"name": "p2"},
 "mark": {"type": "line", "strokeWidth": 2.1, "strokeJoin": "round"},
 "encoding": {
  "x": {"field": "ds", "type": "temporal", "scale": {"type": "utc", "domain": [{"year":2016,"month":2,"date":23,"hours":10,"minutes":48,"utc":true},{"year":2016,"month":6,"date":24,"hours":13,"minutes":12,"utc":true}]}, "axis": {"title": null, "format": "%Y-%m-%d", "values": [{"year":2016,"month":3,"date":1,"utc":true},{"year":2016,"month":3,"date":15,"utc":true},{"year":2016,"month":4,"date":1,"utc":true},{"year":2016,"month":4,"date":15,"utc":true},{"year":2016,"month":5,"date":1,"utc":true},{"year":2016,"month":5,"date":15,"utc":true},{"year":2016,"month":6,"date":1,"utc":true},{"year":2016,"month":6,"date":15,"utc":true}]}},
  "y": {"field": "v", "type": "quantitative", "scale": {"domain": [-0.35, 7.35], "nice": false, "zero": false}, "axis": {"title": null, "values": [0,1,2,3,4,5,6,7], "format": "d"}},
  "color": {"field": "s", "type": "nominal", "scale": {"domain": ["y", "forecast"], "range": ["#1f77b4", "#17becf"]}, "legend": {"title": null, "orient": "none", "legendX": 1567, "legendY": 22}}
 }},
{"width": 742, "height": 254, "title": "unique_id=FOODS_3_520_WI_3", "data": {"name": "p3"},
 "mark": {"type": "line", "strokeWidth": 2.1, "strokeJoin": "round"},
 "encoding": {
  "x": {"field": "ds", "type": "temporal", "scale": {"type": "utc", "domain": [{"year":2016,"month":2,"date":23,"hours":10,"minutes":48,"utc":true},{"year":2016,"month":6,"date":24,"hours":13,"minutes":12,"utc":true}]}, "axis": {"title": null, "format": "%Y-%m-%d", "values": [{"year":2016,"month":3,"date":1,"utc":true},{"year":2016,"month":3,"date":15,"utc":true},{"year":2016,"month":4,"date":1,"utc":true},{"year":2016,"month":4,"date":15,"utc":true},{"year":2016,"month":5,"date":1,"utc":true},{"year":2016,"month":5,"date":15,"utc":true},{"year":2016,"month":6,"date":1,"utc":true},{"year":2016,"month":6,"date":15,"utc":true}]}},
  "y": {"field": "v", "type": "quantitative", "scale": {"domain": [-0.25, 5.25], "nice": false, "zero": false}, "axis": {"title": "Target [y]", "values": [0,1,2,3,4,5], "format": "d"}},
  "color": {"field": "s", "type": "nominal", "scale": {"domain": ["y", "forecast"], "range": ["#1f77b4", "#17becf"]}, "legend": {"title": null, "orient": "none", "legendX": 1567, "legendY": 22}}
 }},
{"width": 742, "height": 254, "title": "unique_id=FOODS_3_230_TX_2", "data": {"name": "p4"},
 "mark": {"type": "line", "strokeWidth": 2.1, "strokeJoin": "round"},
 "encoding": {
  "x": {"field": "ds", "type": "temporal", "scale": {"type": "utc", "domain": [{"year":2016,"month":2,"date":23,"hours":10,"minutes":48,"utc":true},{"year":2016,"month":6,"date":24,"hours":13,"minutes":12,"utc":true}]}, "axis": {"title": null, "format": "%Y-%m-%d", "values": [{"year":2016,"month":3,"date":1,"utc":true},{"year":2016,"month":3,"date":15,"utc":true},{"year":2016,"month":4,"date":1,"utc":true},{"year":2016,"month":4,"date":15,"utc":true},{"year":2016,"month":5,"date":1,"utc":true},{"year":2016,"month":5,"date":15,"utc":true},{"year":2016,"month":6,"date":1,"utc":true},{"year":2016,"month":6,"date":15,"utc":true}]}},
  "y": {"field": "v", "type": "quantitative", "scale": {"domain": [-0.95, 19.95], "nice": false, "zero": false}, "axis": {"title": null, "values": [0,2.5,5,7.5,10,12.5,15,17.5], "format": ".1f"}},
  "color": {"field": "s", "type": "nominal", "scale": {"domain": ["y", "forecast"], "range": ["#1f77b4", "#17becf"]}, "legend": {"title": null, "orient": "none", "legendX": 1567, "legendY": 22}}
 }},
{"width": 742, "height": 254, "title": "unique_id=FOODS_3_074_TX_2", "data": {"name": "p5"},
 "mark": {"type": "line", "strokeWidth": 2.1, "strokeJoin": "round"},
 "encoding": {
  "x": {"field": "ds", "type": "temporal", "scale": {"type": "utc", "domain": [{"year":2016,"month":2,"date":23,"hours":10,"minutes":48,"utc":true},{"year":2016,"month":6,"date":24,"hours":13,"minutes":12,"utc":true}]}, "axis": {"title": null, "format": "%Y-%m-%d", "values": [{"year":2016,"month":3,"date":1,"utc":true},{"year":2016,"month":3,"date":15,"utc":true},{"year":2016,"month":4,"date":1,"utc":true},{"year":2016,"month":4,"date":15,"utc":true},{"year":2016,"month":5,"date":1,"utc":true},{"year":2016,"month":5,"date":15,"utc":true},{"year":2016,"month":6,"date":1,"utc":true},{"year":2016,"month":6,"date":15,"utc":true}]}},
  "y": {"field": "v", "type": "quantitative", "scale": {"domain": [-0.2, 4.2], "nice": false, "zero": false}, "axis": {"title": "Target [y]", "values": [0,0.5,1,1.5,2,2.5,3,3.5,4], "format": ".1f"}},
  "color": {"field": "s", "type": "nominal", "scale": {"domain": ["y", "forecast"], "range": ["#1f77b4", "#17becf"]}, "legend": {"title": null, "orient": "none", "legendX": 1567, "legendY": 22}}
 }},
{"width": 742, "height": 254, "title": "unique_id=FOODS_3_049_WI_1", "data": {"name": "p6"},
 "mark": {"type": "line", "strokeWidth": 2.1, "strokeJoin": "round"},
 "encoding": {
  "x": {"field": "ds", "type": "temporal", "scale": {"type": "utc", "domain": [{"year":2016,"month":2,"date":23,"hours":10,"minutes":48,"utc":true},{"year":2016,"month":6,"date":24,"hours":13,"minutes":12,"utc":true}]}, "axis": {"title": null, "format": "%Y-%m-%d", "values": [{"year":2016,"month":3,"date":1,"utc":true},{"year":2016,"month":3,"date":15,"utc":true},{"year":2016,"month":4,"date":1,"utc":true},{"year":2016,"month":4,"date":15,"utc":true},{"year":2016,"month":5,"date":1,"utc":true},{"year":2016,"month":5,"date":15,"utc":true},{"year":2016,"month":6,"date":1,"utc":true},{"year":2016,"month":6,"date":15,"utc":true}]}},
  "y": {"field": "v", "type": "quantitative", "scale": {"domain": [-0.1, 2.1], "nice": false, "zero": false}, "axis": {"title": null, "values": [0,0.25,0.5,0.75,1,1.25,1.5,1.75,2], "format": ".2f"}},
  "color": {"field": "s", "type": "nominal", "scale": {"domain": ["y", "forecast"], "range": ["#1f77b4", "#17becf"]}, "legend": {"title": null, "orient": "none", "legendX": 1567, "legendY": 22}}
 }},
{"width": 742, "height": 254, "title": "unique_id=FOODS_3_643_TX_2", "data": {"name": "p7"},
 "mark": {"type": "line", "strokeWidth": 2.1, "strokeJoin": "round"},
 "encoding": {
  "x": {"field": "ds", "type": "temporal", "scale": {"type": "utc", "domain": [{"year":2016,"month":2,"date":23,"hours":10,"minutes":48,"utc":true},{"year":2016,"month":6,"date":24,"hours":13,"minutes":12,"utc":true}]}, "axis": {"title": "Time [ds]", "format": "%Y-%m-%d", "values": [{"year":2016,"month":3,"date":1,"utc":true},{"year":2016,"month":3,"date":15,"utc":true},{"year":2016,"month":4,"date":1,"utc":true},{"year":2016,"month":4,"date":15,"utc":true},{"year":2016,"month":5,"date":1,"utc":true},{"year":2016,"month":5,"date":15,"utc":true},{"year":2016,"month":6,"date":1,"utc":true},{"year":2016,"month":6,"date":15,"utc":true}]}},
  "y": {"field": "v", "type": "quantitative", "scale": {"domain": [-0.2, 4.2], "nice": false, "zero": false}, "axis": {"title": "Target [y]", "values": [0,0.5,1,1.5,2,2.5,3,3.5,4], "format": ".1f"}},
  "color": {"field": "s", "type": "nominal", "scale": {"domain": ["y", "forecast"], "range": ["#1f77b4", "#17becf"]}, "legend": {"title": null, "orient": "none", "legendX": 1567, "legendY": 22}}
 }},
{"width": 742, "height": 254, "title": {"text": "unique_id=FOODS_3_120_CA_1", "dy": 5.5}, "data": {"name": "p8"},
 "mark": {"type": "line", "strokeWidth": 2.1, "strokeJoin": "round"},
 "encoding": {
  "x": {"field": "ds", "type": "temporal", "scale": {"type": "utc", "domain": [{"year":2016,"month":2,"date":23,"hours":10,"minutes":48,"utc":true},{"year":2016,"month":6,"date":24,"hours":13,"minutes":12,"utc":true}]}, "axis": {"title": "Time [ds]", "format": "%Y-%m-%d", "values": [{"year":2016,"month":3,"date":1,"utc":true},{"year":2016,"month":3,"date":15,"utc":true},{"year":2016,"month":4,"date":1,"utc":true},{"year":2016,"month":4,"date":15,"utc":true},{"year":2016,"month":5,"date":1,"utc":true},{"year":2016,"month":5,"date":15,"utc":true},{"year":2016,"month":6,"date":1,"utc":true},{"year":2016,"month":6,"date":15,"utc":true}]}},
  "y": {"field": "v", "type": "quantitative", "scale": {"domain": [-6.75, 141.75], "nice": false, "zero": false}, "axis": {"title": null, "values": [0,20,40,60,80,100,120,140], "format": "d"}},
  "color": {"field": "s", "type": "nominal", "scale": {"domain": ["y", "forecast"], "range": ["#1f77b4", "#17becf"]}, "legend": {"title": null, "orient": "none", "legendX": 1567, "legendY": 22}}
 }}
],
"config": {
 "font": "DejaVu Sans",
 "view": {"stroke": "black", "strokeWidth": 1.1},
 "axis": {"domain": false, "grid": false, "ticks": true, "tickColor": "black", "tickSize": 4.9, "tickWidth": 1.1, "labelColor": "black", "labelFont": "DejaVu Sans", "labelFontSize": 13.9, "labelPadding": 4.9, "labelFlush": false, "labelOverlap": false, "titleFont": "DejaVu Sans", "titleFontSize": 13.9, "titleFontWeight": "normal", "titleColor": "black", "titlePadding": 5.6},
 "axisX": {"labelAngle": -30, "labelAlign": "center", "labelBaseline": "middle", "labelPadding": 28, "titlePadding": 8.5},
 "title": {"font": "DejaVu Sans", "fontSize": 16.7, "fontWeight": "normal", "color": "black", "offset": 4.7, "anchor": "middle", "baseline": "bottom", "frame": "group"},
 "legend": {"symbolType": "M-1,0H3", "symbolSize": 256, "symbolStrokeWidth": 2.1, "labelFont": "DejaVu Sans", "labelFontSize": 13.9, "labelColor": "black", "labelOffset": 23, "rowPadding": 5, "padding": 5.5, "strokeColor": "#cccccc", "fillColor": "white", "cornerRadius": 3}
}
}
